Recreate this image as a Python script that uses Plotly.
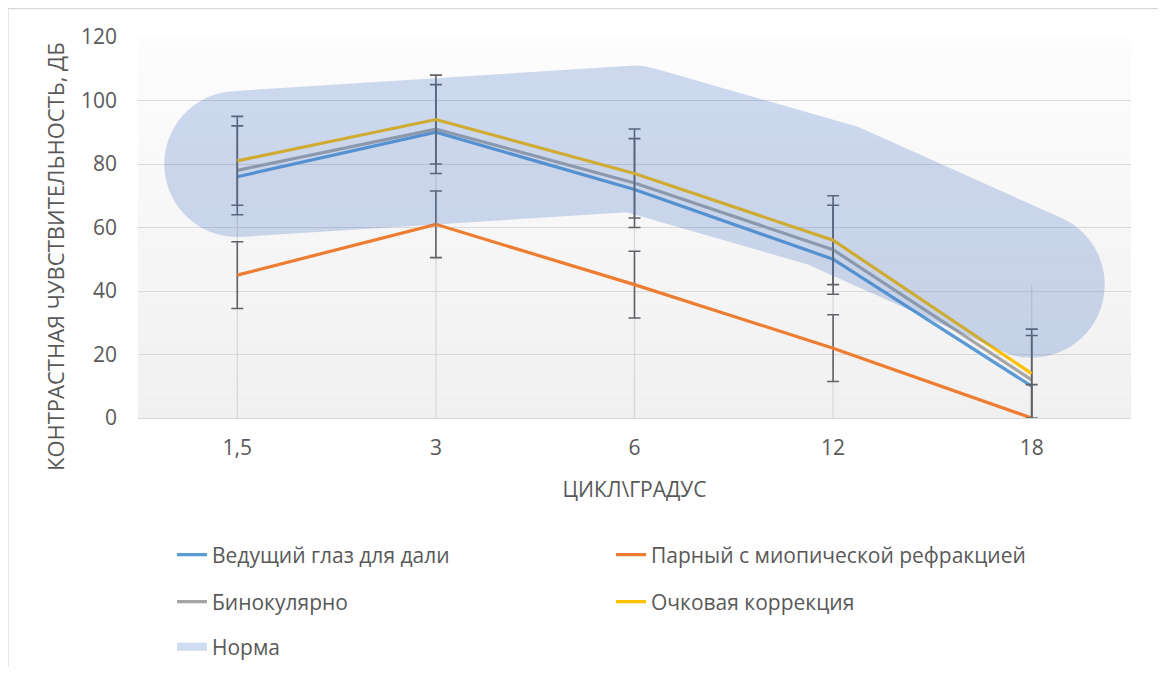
import plotly.graph_objects as go

# categories and series values
cycles = ["1,5", "3", "6", "12", "18"]
lead_eye = [76, 90, 72, 50, 10]
myopic_eye = [45, 61, 42, 22, 0]
binocular = [78, 91, 74, 53, 12]
glasses = [81, 94, 77, 56, 14]
norm = [80, 85, 88, 70, 42]

err_myopic = [10.5, 10.5, 10.5, 10.5, 10.5]
err_binocular = [14, 14, 14, 14, 14]
err_glasses = [14, 14, 14, 14, 14]

COLOURS = {
    "lead": "#5B9BD5",
    "myopic": "#ED7D31",
    "bino": "#A5A5A5",
    "glasses": "#FFC000",
    "norm": "#4472C4",
    "err": "#5f6166",
    "grid": "#d9d9d9",
    "text": "#595959",
}
FONT = "Open Sans"

# page pixels of the reference; the html body adds an 8px margin
OFF = 8
PAGE_W, PAGE_H = 1166, 675
PLOT_L, PLOT_R, PLOT_T, PLOT_B = 138, 1131, 37, 418
W, H = PAGE_W - OFF, PAGE_H - 2 * OFF
PW, PH = PLOT_R - PLOT_L, PLOT_B - PLOT_T


def px_x(p):
    return (p - PLOT_L) / PW


def px_y(p):
    return (PLOT_B - p) / PH


def err(vals):
    return dict(type="data", array=vals, color=COLOURS["err"],
                thickness=1.6, width=6)


fig = go.Figure()

# drop lines from the highest point of each category down to the axis
tops = [max(v) for v in zip(lead_eye, myopic_eye, binocular, glasses, norm)]
fig.add_trace(go.Scatter(
    x=cycles, y=tops, mode="markers", marker=dict(size=1, opacity=0),
    error_y=dict(type="data", symmetric=False, array=[0] * len(tops),
                 arrayminus=tops, color=COLOURS["grid"], thickness=1.3, width=0),
    showlegend=False, hoverinfo="skip"))

fig.add_trace(go.Scatter(
    x=cycles, y=lead_eye, name="Ведущий глаз для дали", mode="lines",
    line=dict(color=COLOURS["lead"], width=3.2), legend="legend"))
fig.add_trace(go.Scatter(
    x=cycles, y=myopic_eye, name="Парный с миопической рефракцией", mode="lines",
    line=dict(color=COLOURS["myopic"], width=3.2), error_y=err(err_myopic),
    legend="legend"))
fig.add_trace(go.Scatter(
    x=cycles, y=binocular, name="Бинокулярно", mode="lines",
    line=dict(color=COLOURS["bino"], width=3.2), error_y=err(err_binocular),
    legend="legend2"))
fig.add_trace(go.Scatter(
    x=cycles, y=glasses, name="Очковая коррекция", mode="lines",
    line=dict(color=COLOURS["glasses"], width=3.2), error_y=err(err_glasses),
    legend="legend2"))

# the "norm" band: a very wide translucent line (rounded by the post script)
fig.add_trace(go.Scatter(
    x=cycles, y=norm, mode="lines", opacity=0.25,
    line=dict(color=COLOURS["norm"], width=146),
    showlegend=False, hoverinfo="skip"))
# legend entry for the band
fig.add_trace(go.Scatter(
    x=[None], y=[None], name="Норма", mode="lines", opacity=0.25,
    line=dict(color=COLOURS["norm"], width=8), legend="legend3"))

# soft vertical gradient behind the plot area
shapes = []
n = 30
for i in range(n):
    c = round(253 - (253 - 240) * (i + 0.5) / n)
    shapes.append(dict(
        type="rect", xref="paper", yref="paper", layer="below",
        x0=0, x1=1, y0=1 - (i + 1) / n, y1=1 - i / n,
        fillcolor=f"rgb({c},{c},{c})", line=dict(width=0)))
# chart border
shapes.append(dict(
    type="rect", xref="paper", yref="paper", layer="below",
    x0=px_x(8), x1=px_x(1160), y0=px_y(PAGE_H + 5), y1=px_y(8.5),
    line=dict(color=COLOURS["grid"], width=1.3), fillcolor="rgba(0,0,0,0)"))

legend_common = dict(
    orientation="h", xanchor="left", yanchor="middle",
    font=dict(family=FONT, size=21, color=COLOURS["text"]),
    bgcolor="rgba(0,0,0,0)", entrywidth=394, entrywidthmode="pixels",
)

fig.update_layout(
    width=W, height=H,
    margin=dict(l=PLOT_L - OFF, r=W - (PLOT_R - OFF), t=PLOT_T - OFF,
                b=H - (PLOT_B - OFF), autoexpand=False),
    paper_bgcolor="white", plot_bgcolor="rgba(0,0,0,0)",
    font=dict(family=FONT, size=21, color=COLOURS["text"]),
    shapes=shapes,
    xaxis=dict(
        type="category", range=[-0.5, len(cycles) - 0.5],
        showgrid=False, showline=True, linecolor=COLOURS["grid"], linewidth=1.3,
        ticks="", ticklabelstandoff=11, automargin=False,
        title=dict(text="ЦИКЛ\\ГРАДУС", standoff=21,
                   font=dict(family=FONT, size=21, color=COLOURS["text"])),
        tickfont=dict(family=FONT, size=21, color=COLOURS["text"]),
    ),
    yaxis=dict(
        range=[0, 120], dtick=20, showgrid=True, gridcolor=COLOURS["grid"],
        gridwidth=1.3, zeroline=False, showline=False, ticks="",
        ticklabelstandoff=20, automargin=False,
        tickfont=dict(family=FONT, size=21, color=COLOURS["text"]),
    ),
    annotations=[dict(
        text="КОНТРАСТНАЯ ЧУВСТВИТЕЛЬНОСТЬ, ДБ", textangle=-90,
        xref="paper", yref="paper", x=px_x(55), y=px_y(257),
        xanchor="center", yanchor="middle",
        showarrow=False, font=dict(family=FONT, size=22, color=COLOURS["text"]))],
    legend=dict(x=px_x(172), y=px_y(555), **legend_common),
    legend2=dict(x=px_x(172), y=px_y(602), **legend_common),
    legend3=dict(x=px_x(172), y=px_y(647), **legend_common),
    showlegend=True,
)

# round caps and joins for the wide band, like the original chart
ROUND_BAND = """
var gd = document.getElementById('{plot_id}');
function roundBand() {
  gd.querySelectorAll('path.js-line').forEach(function (p) {
    if (parseFloat(p.style.strokeWidth) > 50) {
      p.style.strokeLinecap = 'round';
      p.style.strokeLinejoin = 'round';
    }
  });
}
roundBand();
gd.on('plotly_afterplot', roundBand);
"""

fig.write_html("out.html", post_script=ROUND_BAND)
